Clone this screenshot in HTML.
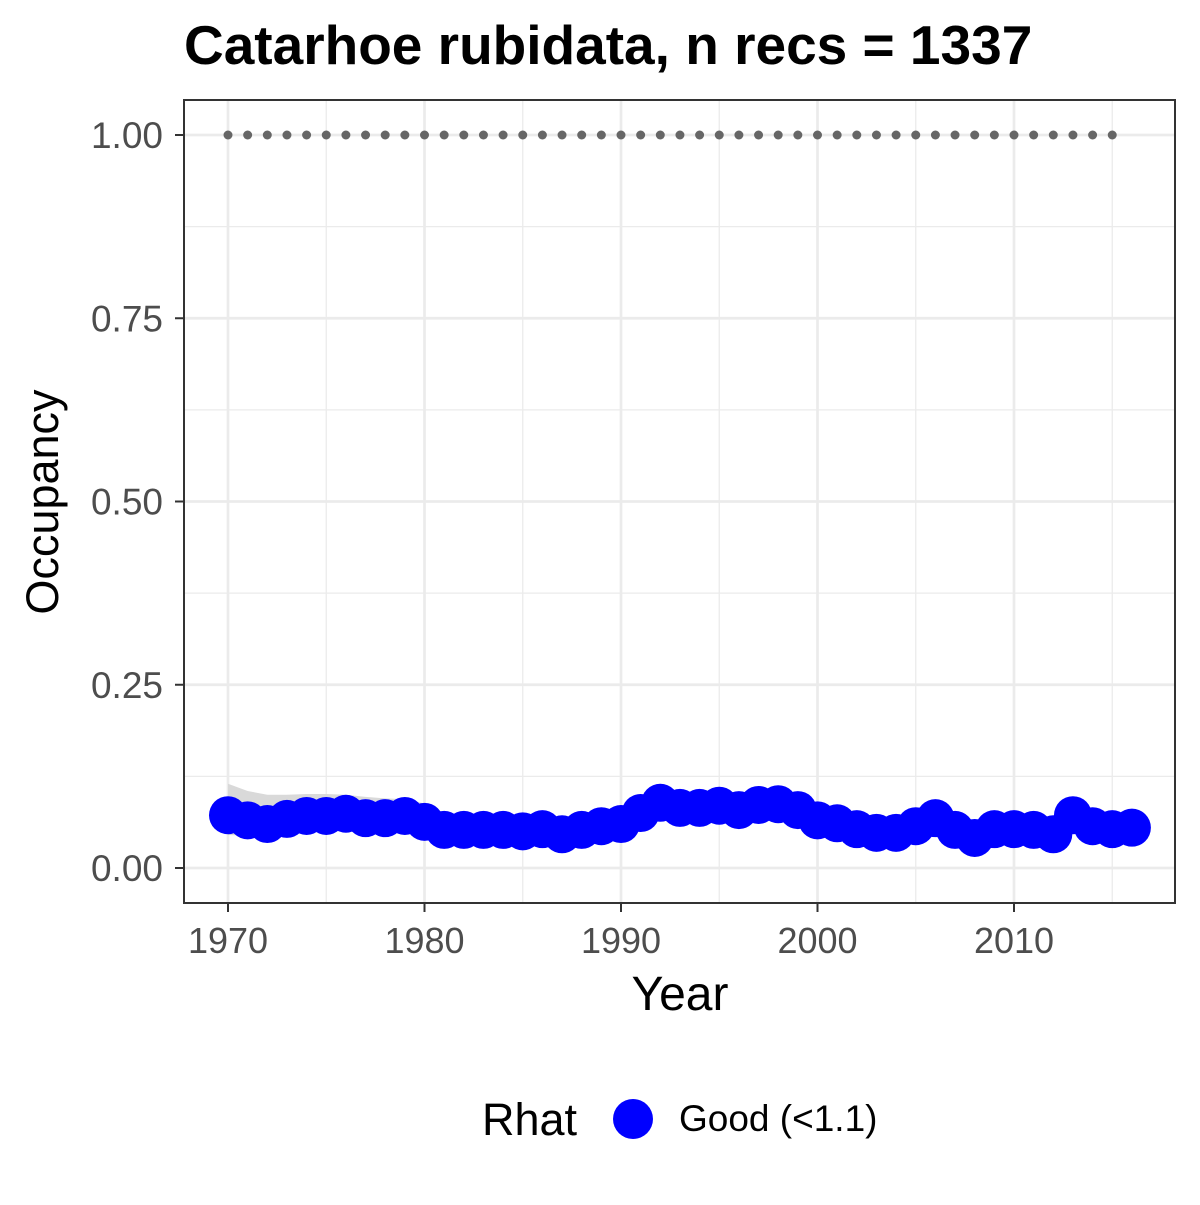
<!DOCTYPE html>
<html><head><meta charset="utf-8"><style>
body{margin:0;background:#fff;}
text{font-family:"Liberation Sans",Arial,sans-serif;}
</style></head><body>
<svg id="chart" width="1200" height="1200" xmlns="http://www.w3.org/2000/svg">
<text x="184" y="64" font-size="55" font-weight="bold" fill="#000">Catarhoe rubidata, n recs = 1337</text>
<rect x="184" y="100" width="991" height="803" fill="#fff"/>
<g id="grid"></g><g id="ribbon"></g><g id="refline"></g><g id="points"></g>
<rect x="184" y="100" width="991" height="803" fill="none" stroke="#333" stroke-width="2"/>
<g id="axes"></g>
<text x="680" y="1010" font-size="48" text-anchor="middle" fill="#000">Year</text>
<text transform="translate(58,502) rotate(-90)" font-size="45" text-anchor="middle" fill="#000">Occupancy</text>
<g>
<text x="482" y="1135" font-size="45" fill="#000">Rhat</text>
<circle cx="633" cy="1119" r="20" fill="#0000ff"/>
<text x="679" y="1131" font-size="37" fill="#000">Good (&lt;1.1)</text>
</g>
</svg>
<script>
const years=[1970,1971,1972,1973,1974,1975,1976,1977,1978,1979,1980,1981,1982,1983,1984,1985,1986,1987,1988,1989,1990,1991,1992,1993,1994,1995,1996,1997,1998,1999,2000,2001,2002,2003,2004,2005,2006,2007,2008,2009,2010,2011,2012,2013,2014,2015,2016];
const occupancy=[0.072,0.065,0.060,0.067,0.071,0.071,0.074,0.068,0.068,0.071,0.063,0.052,0.052,0.052,0.052,0.050,0.053,0.046,0.052,0.057,0.060,0.075,0.089,0.082,0.082,0.085,0.079,0.086,0.087,0.079,0.065,0.061,0.053,0.048,0.048,0.057,0.068,0.052,0.041,0.053,0.053,0.052,0.046,0.072,0.057,0.053,0.055];
const ribbonYears=[1970,1971,1972,1973,1974,1975,1976,1977,1978,1979,1980];
const ribbonUpper=[0.115,0.105,0.100,0.100,0.101,0.101,0.100,0.097,0.095,0.094,0.088];
const ribbonLower=[0.045,0.044,0.042,0.046,0.050,0.050,0.052,0.050,0.050,0.052,0.048];
const refYears=[1970,1971,1972,1973,1974,1975,1976,1977,1978,1979,1980,1981,1982,1983,1984,1985,1986,1987,1988,1989,1990,1991,1992,1993,1994,1995,1996,1997,1998,1999,2000,2001,2002,2003,2004,2005,2006,2007,2008,2009,2010,2011,2012,2013,2014,2015];
const refValue=1.0;
const xTicks=[1970,1980,1990,2000,2010];
const yTicks=[0,0.25,0.5,0.75,1.0];
const yTickLabels=["0.00","0.25","0.50","0.75","1.00"];
const NS="http://www.w3.org/2000/svg";
const xs=y=>228+(y-1970)*(1014-228)/40;
const ys=v=>868-v*733;
function mk(tag,attrs,parent){const e=document.createElementNS(NS,tag);for(const k in attrs)e.setAttribute(k,attrs[k]);document.getElementById(parent).appendChild(e);return e;}
[1975,1985,1995,2005,2015].forEach(t=>{const l=mk('line',{x1:xs(t),x2:xs(t),y1:100,y2:903,stroke:'#ebebeb','stroke-width':1.3},'grid');

});
[0.125,0.375,0.625,0.875].forEach(t=>{const l=mk('line',{x1:184,x2:1175,y1:ys(t),y2:ys(t),stroke:'#ebebeb','stroke-width':1.3},'grid');

});
xTicks.forEach(t=>{const l=mk('line',{x1:xs(t),x2:xs(t),y1:100,y2:903,stroke:'#ebebeb','stroke-width':2.7},'grid');

});
yTicks.forEach(t=>{const l=mk('line',{x1:184,x2:1175,y1:ys(t),y2:ys(t),stroke:'#ebebeb','stroke-width':2.7},'grid');

});
let d='';ribbonYears.forEach((y,i)=>{d+=(i?'L':'M')+xs(y)+' '+ys(ribbonUpper[i]);});
for(let i=ribbonYears.length-1;i>=0;i--)d+='L'+xs(ribbonYears[i])+' '+ys(ribbonLower[i]);
const rb=mk('path',{d:d+'Z',fill:'#d9d9d9'},'ribbon');


refYears.forEach(y=>{const c=mk('circle',{cx:xs(y),cy:ys(refValue),r:4.5,fill:'#666'},'refline');

});
years.forEach((y,i)=>{const c=mk('circle',{cx:xs(y),cy:ys(occupancy[i]),r:19,fill:'#0000ff'},'points');

});
xTicks.forEach(t=>{const l=mk('line',{x1:xs(t),x2:xs(t),y1:903,y2:912,stroke:'#333','stroke-width':2},'axes');


const tx=mk('text',{x:xs(t),y:953,'font-size':36,'text-anchor':'middle',fill:'#4d4d4d'},'axes');tx.textContent=t;

});
yTicks.forEach((t,i)=>{const l=mk('line',{x1:175,x2:184,y1:ys(t),y2:ys(t),stroke:'#333','stroke-width':2},'axes');


const tx=mk('text',{x:163,y:ys(t)+13,'font-size':37,'text-anchor':'end',fill:'#4d4d4d'},'axes');tx.textContent=yTickLabels[i];

});
</script>
</body></html>
